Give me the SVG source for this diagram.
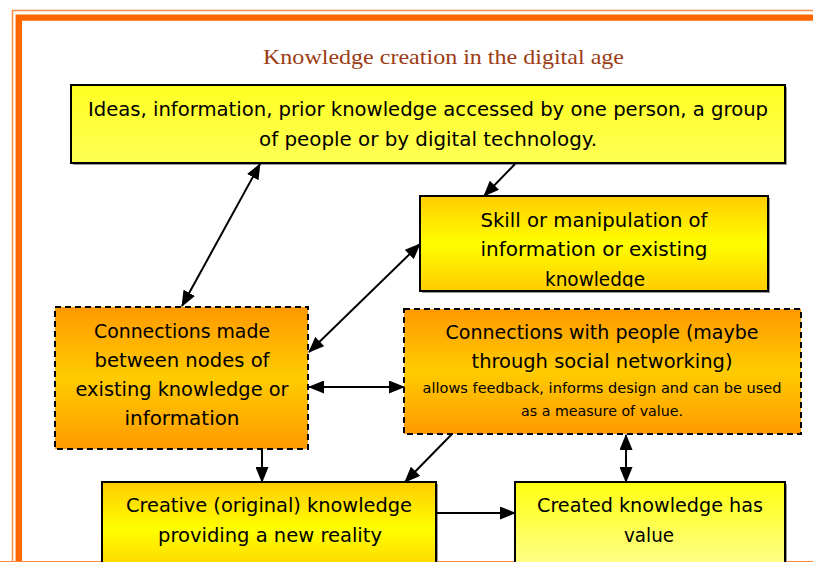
<svg xmlns="http://www.w3.org/2000/svg" width="813" height="562" viewBox="0 0 813 562">
<defs>
<style>
.t{font-family:"Comic Sans MS","DejaVu Sans",sans-serif;font-size:20px;fill:#000;text-anchor:middle}
.s{font-size:14px}
.solid{stroke:#000;stroke-width:2}
.dash{stroke:#000;stroke-width:2;stroke-dasharray:6 4}
.sh{fill:#999}
.c{fill:none;stroke:#000;stroke-width:2}
</style>
<linearGradient id="gY" x1="0" y1="0" x2="0" y2="1"><stop offset="0" stop-color="#ffff22"/><stop offset="1" stop-color="#ffff55"/></linearGradient>
<linearGradient id="gYO" x1="0" y1="0" x2="0" y2="1"><stop offset="0" stop-color="#ffcc00"/><stop offset="0.5" stop-color="#ffff00"/><stop offset="1" stop-color="#ffcc00"/></linearGradient>
<linearGradient id="gO" x1="0" y1="0" x2="0" y2="1"><stop offset="0" stop-color="#ff9900"/><stop offset="0.5" stop-color="#ffcc00"/><stop offset="1" stop-color="#ff9900"/></linearGradient>
<linearGradient id="gPale" x1="0" y1="0" x2="0" y2="1"><stop offset="0" stop-color="#ffff11"/><stop offset="1" stop-color="#ffff99"/></linearGradient>
<marker id="ah" viewBox="0 0 16 13" refX="15" refY="6.5" markerWidth="16" markerHeight="13" markerUnits="userSpaceOnUse" orient="auto-start-reverse"><path d="M0,0 L16,6.5 L0,13 z" fill="#000"/></marker>
<clipPath id="clip2"><rect x="421" y="197" width="346" height="90"/></clipPath>
</defs>
<rect width="813" height="562" fill="#fff"/>
<g id="border">
<path d="M12.5,580 V10.5 H830" fill="none" stroke="#ff8c40" stroke-width="1.5"/>
<path d="M18.8,580 V17.6 H830" fill="none" stroke="#ff6600" stroke-width="6.4"/>
<rect x="0" y="561" width="813" height="10" fill="#ff8c40"/>
</g>
<text x="443.5" y="64" style="font-family:'Liberation Serif','Times New Roman',serif;font-size:21px;fill:#9c3c14;text-anchor:middle" textLength="361" lengthAdjust="spacingAndGlyphs">Knowledge creation in the digital age</text>

<g id="n1">
<rect class="sh" x="73" y="87" width="714" height="78"/>
<rect class="solid" x="71" y="85" width="714" height="78" fill="url(#gY)"/>
<text class="t" x="428" y="116" textLength="680" lengthAdjust="spacingAndGlyphs">Ideas, information, prior knowledge accessed by one person, a group</text>
<text class="t" x="428" y="146" textLength="338" lengthAdjust="spacingAndGlyphs">of people or by digital technology.</text>
</g>

<g id="n2">
<rect class="sh" x="422" y="198" width="348" height="95"/>
<rect class="solid" x="420" y="196" width="348" height="95" fill="url(#gYO)"/>
<g clip-path="url(#clip2)">
<text class="t" x="594" y="227" textLength="227" lengthAdjust="spacingAndGlyphs">Skill or manipulation of</text>
<text class="t" x="594" y="256" textLength="227" lengthAdjust="spacingAndGlyphs">information or existing</text>
<text class="t" x="595" y="286" textLength="100" lengthAdjust="spacingAndGlyphs">knowledge</text>
</g>
</g>

<g id="n3">
<rect class="dash" x="55" y="307" width="253" height="142" fill="url(#gO)"/>
<text class="t" x="182" y="338" textLength="176" lengthAdjust="spacingAndGlyphs">Connections made</text>
<text class="t" x="182" y="367" textLength="175" lengthAdjust="spacingAndGlyphs">between nodes of</text>
<text class="t" x="182" y="396" textLength="213" lengthAdjust="spacingAndGlyphs">existing knowledge or</text>
<text class="t" x="182" y="425" textLength="115" lengthAdjust="spacingAndGlyphs">information</text>
</g>

<g id="n4">
<rect class="dash" x="404" y="309" width="397" height="125" fill="url(#gO)"/>
<text class="t" x="602" y="339" textLength="313" lengthAdjust="spacingAndGlyphs">Connections with people (maybe</text>
<text class="t" x="602" y="368" textLength="261" lengthAdjust="spacingAndGlyphs">through social networking)</text>
<text class="t s" x="602" y="393" textLength="359" lengthAdjust="spacingAndGlyphs">allows feedback, informs design and can be used</text>
<text class="t s" x="602" y="416" textLength="162" lengthAdjust="spacingAndGlyphs">as a measure of value.</text>
</g>

<g id="n5">
<rect class="sh" x="104" y="484" width="334" height="95"/>
<rect class="solid" x="102" y="482" width="334" height="95" fill="url(#gYO)"/>
<text class="t" x="269" y="512" textLength="286" lengthAdjust="spacingAndGlyphs">Creative (original) knowledge</text>
<text class="t" x="270" y="542" textLength="224" lengthAdjust="spacingAndGlyphs">providing a new reality</text>
</g>

<g id="n6">
<rect class="sh" x="517" y="484" width="270" height="95"/>
<rect class="solid" x="515" y="482" width="270" height="95" fill="url(#gPale)"/>
<text class="t" x="650" y="512" textLength="226" lengthAdjust="spacingAndGlyphs">Created knowledge has</text>
<text class="t" x="649" y="542" textLength="50" lengthAdjust="spacingAndGlyphs">value</text>
</g>

<g id="connectors">
<line class="c" x1="182" y1="306" x2="260" y2="164" marker-start="url(#ah)" marker-end="url(#ah)"/>
<line class="c" x1="515" y1="164" x2="484" y2="196" marker-end="url(#ah)"/>
<line class="c" x1="309" y1="352" x2="420" y2="244" marker-start="url(#ah)" marker-end="url(#ah)"/>
<line class="c" x1="309" y1="387" x2="404" y2="387" marker-start="url(#ah)" marker-end="url(#ah)"/>
<line class="c" x1="262" y1="450" x2="262" y2="482" marker-end="url(#ah)"/>
<line class="c" x1="452" y1="434" x2="405" y2="482" marker-end="url(#ah)"/>
<line class="c" x1="437" y1="513" x2="515" y2="513" marker-end="url(#ah)"/>
<line class="c" x1="626" y1="435" x2="626" y2="482" marker-start="url(#ah)" marker-end="url(#ah)"/>
</g>
</svg>
